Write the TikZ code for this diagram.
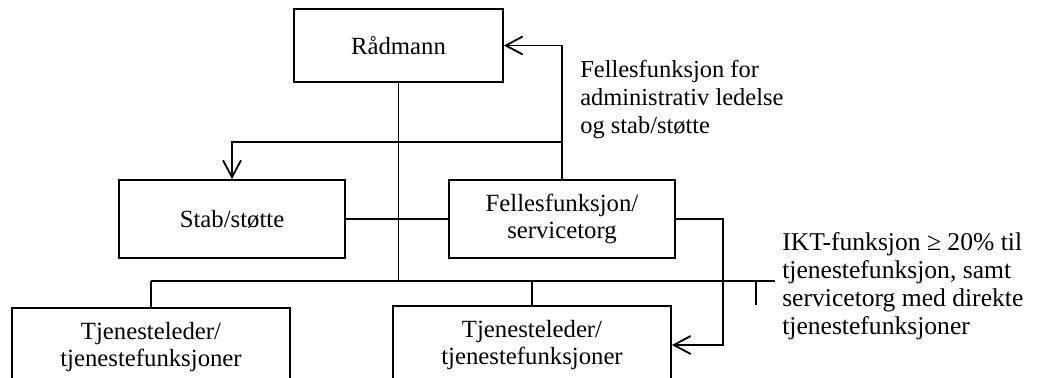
\documentclass[tikz,border=0pt]{standalone}
\usepackage{fontspec}
\setmainfont{Liberation Serif}
\usepackage{tikz}
\usetikzlibrary{calc,arrows.meta}
\tikzset{%
    orgbox/.style={%
        rectangle, draw=black, line width=1.3pt, minimum width=5.65cm, minimum height=1.95cm, text centered, align=center, font=\fontsize{17.6}{19.3}\selectfont
    },
    topbox/.style={%
        orgbox, minimum width=5.225cm, minimum height=1.825cm
    },
    wide/.style={%
        orgbox, minimum width=6.95cm
    },
    lbl/.style={%
        align=left, inner sep=0pt, anchor=north west, font=\fontsize{17.4}{19.8}\selectfont
    },
    biglbl/.style={%
        lbl, font=\fontsize{18.2}{19.9}\selectfont
    },
    link/.style={%
        line width=1.3pt
    },
    arr/.style={%
        link, -{Straight Barb[length=0.42cm,width=0.45cm]}
    },
}
\begin{document}
\begin{tikzpicture}
      \useasboundingbox (0,0) rectangle (25.925,-9.45);

      \node[topbox] (radmann) at (9.9625,-1.1375) {Rådmann};
      \node[orgbox] (stab) at (5.8,-5.475) {Stab/støtte};
      \node[orgbox] (felles) at (14.05,-5.475) {Fellesfunksjon/\\servicetorg};
      \node[wide] (tjA) at (3.775,-8.675) {Tjenesteleder/\\tjenestefunksjoner};
      \node[wide] (tjB) at (13.3,-8.625) {Tjenesteleder/\\tjenestefunksjoner};

      \coordinate (topbus) at (14.05,-3.55);
      \coordinate (busL) at (3.775,-7.025);
      \coordinate (busR) at (19.375,-7.025);
      \coordinate (ikt) at (18.9,-7.625);

      \draw[arr] (felles.north) |- (radmann.east);
      \draw[arr] (topbus) -| (stab.north);
      \draw[link] (stab.east) -- (felles.west);
      \draw[link] (radmann.south) -- (radmann.south |- busL);
      \draw[link] (busL) -- (busR);
      \draw[link] (busL) -- (tjA.north);
      \draw[link] (tjB.north |- busL) -- (tjB.north);
      \draw[link] (ikt |- busL) -- (ikt);
      \draw[arr] (felles.east) -- ++(1.175,0) |- (tjB.east);

      \node[lbl] (admlabel) at (14.5,-1.51) {Fellesfunksjon for\\administrativ ledelse\\og stab/støtte};
      \node[biglbl] (iktlabel) at (19.55,-5.8) {IKT-funksjon ≥ 20\% til\\tjenestefunksjon, samt\\servicetorg med direkte\\tjenestefunksjoner};
    \end{tikzpicture}
\end{document}
